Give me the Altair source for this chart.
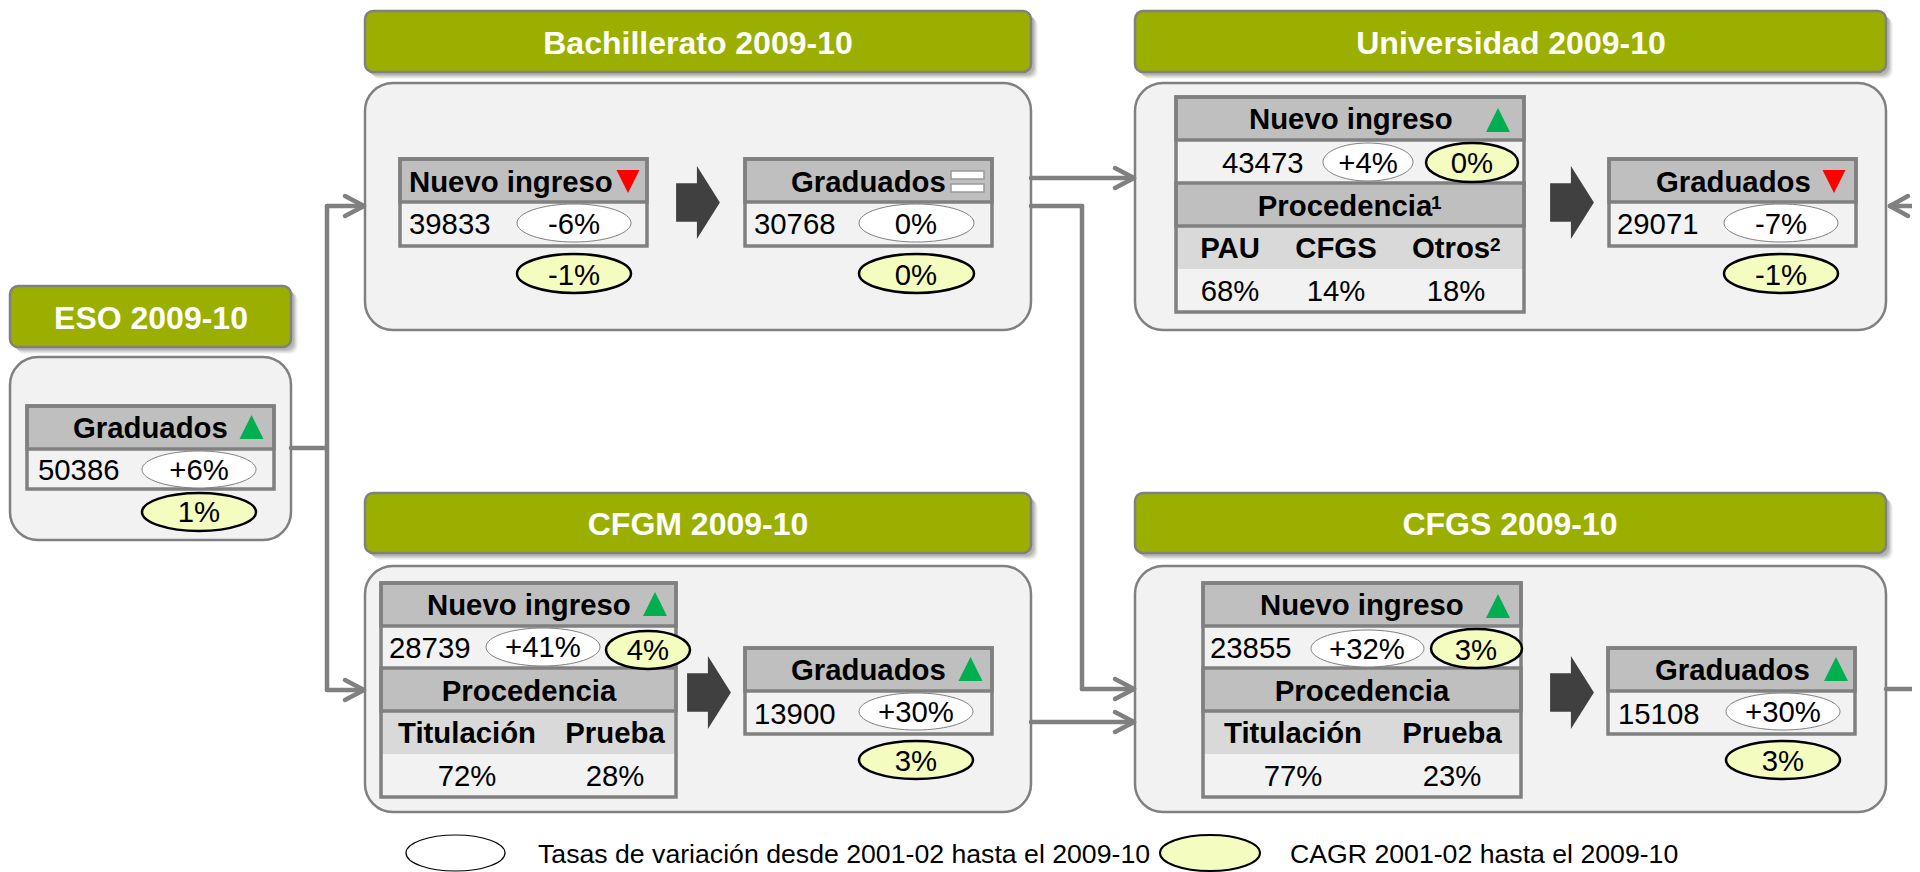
import altair as alt
import pandas as pd

# ---------- values ----------
stage_titles = ["ESO 2009-10", "Bachillerato 2009-10", "Universidad 2009-10", "CFGM 2009-10", "CFGS 2009-10"]
entry_counts = ["39833", "43473", "28739", "23855"]
entry_rates = ["-6%", "+4%", "+41%", "+32%"]
entry_cagr = ["-1%", "0%", "4%", "3%"]
grad_counts = ["50386", "30768", "29071", "13900", "15108"]
grad_rates = ["+6%", "0%", "-7%", "+30%", "+30%"]
grad_cagr = ["1%", "0%", "-1%", "3%", "3%"]
origin_heads = ["Procedencia", "Procedencia", "Procedencia"]
uni_origin = ["PAU", "CFGS", "Otros"]
footnotes = ["1", "2"]
uni_share = ["68%", "14%", "18%"]
fp_origin = ["Titulación", "Prueba"]
cfgm_share = ["72%", "28%"]
cfgs_share = ["77%", "23%"]
legend_texts = ["Tasas de variación desde 2001-02 hasta el 2009-10", "CAGR 2001-02 hasta el 2009-10"]

# ---------- layout of the diagram, in picture pixels ----------
GRAY, GREEN, OLIVE, RED = "#808080", "#00B050", "#9BAF00", "#FF0000"
PALE, HEAD, SUB, PANEL, DARK = "#F5FCC0", "#BFBFBF", "#D9D9D9", "#F2F2F2", "#404040"
FONT = "Liberation Sans"

x_s = alt.Scale(domain=[8, 1912], range=[0, 1904], nice=False, zero=False)
y_s = alt.Scale(domain=[8, 872], range=[0, 864], nice=False, zero=False)


def rects(rows, **mark):
    df = pd.DataFrame(rows, columns=["x", "x2", "y", "y2", "fill"])
    return alt.Chart(df).mark_rect(**mark).encode(
        x=alt.X("x:Q", scale=x_s, axis=None), x2="x2:Q",
        y=alt.Y("y:Q", scale=y_s, axis=None), y2="y2:Q",
        fill=alt.Fill("fill:N", scale=None),
    )


def labels(rows, align="left", bold=False, color="#000000", size=29.33):
    df = pd.DataFrame(rows, columns=["x", "y", "t"])
    return alt.Chart(df).mark_text(
        align=align, baseline="alphabetic", font=FONT, fontSize=size,
        fontWeight="bold" if bold else "normal", color=color,
    ).encode(x=alt.X("x:Q", scale=x_s, axis=None), y=alt.Y("y:Q", scale=y_s, axis=None), text="t:N")


def symbols(rows, **mark):
    df = pd.DataFrame(rows, columns=["x", "y", "shape", "size", "fill", "stroke", "sw"])
    return alt.Chart(df).mark_point(filled=True, opacity=1, **mark).encode(
        x=alt.X("x:Q", scale=x_s, axis=None), y=alt.Y("y:Q", scale=y_s, axis=None),
        shape=alt.Shape("shape:N", scale=None),
        size=alt.Size("size:Q", scale=None),
        fill=alt.Fill("fill:N", scale=None),
        stroke=alt.Stroke("stroke:N", scale=None),
        strokeWidth=alt.StrokeWidth("sw:Q", scale=None),
    )


def ellipse(x0, x1, y0, y1, fill, stroke, sw):
    w, h = x1 - x0, y1 - y0
    r, k = h / w, 0.5523
    p = (f"M-1,0C-1,{-k*r:.4f} {-k:.4f},{-r:.4f} 0,{-r:.4f}C{k:.4f},{-r:.4f} 1,{-k*r:.4f} 1,0"
         f"C1,{k*r:.4f} {k:.4f},{r:.4f} 0,{r:.4f}C{-k:.4f},{r:.4f} -1,{k*r:.4f} -1,0Z")
    return [(x0 + x1) / 2, (y0 + y1) / 2, p, w * w, fill, stroke, sw]


UP = "M0,-1L1,1L-1,1Z"
DOWN = "M-1,-1L1,-1L0,1Z"
BLOCK = "M-.6,-.53L-.03,-.53L-.03,-1L.6,0L-.03,1L-.03,.53L-.6,.53Z"


def tri(x0, x1, y0, y1, up=True):
    return [(x0 + x1) / 2, (y0 + y1) / 2, UP if up else DOWN, (y1 - y0) ** 2, GREEN if up else RED, "transparent", 0]


def block(cx, cy):
    return [cx, cy, BLOCK, 73 ** 2, DARK, "transparent", 0]


# header bars, panels
heads = [(10, 291, 286, 347), (365, 1031, 11, 72), (1135, 1886, 11, 72), (365, 1031, 493, 553), (1135, 1886, 493, 553)]
panels = [(10, 291, 357, 540), (365, 1031, 83, 330), (1135, 1886, 83, 330), (365, 1031, 566, 812), (1135, 1886, 566, 812)]

shadow_layers = [
    rects([(a + d, b + d, c + d, e + d, "#808080") for a, b, c, e in heads],
          cornerRadius=8, opacity=op)
    for d, op in [(7, 0.08), (6, 0.12), (5, 0.16), (4, 0.2), (3, 0.25)]
]
head_layer = rects([(*h, OLIVE) for h in heads], cornerRadius=8, stroke=GRAY, strokeWidth=2.5)
panel_layer = rects([(*p, PANEL) for p in panels], cornerRadius=28, stroke=GRAY, strokeWidth=2.5)

# tables: plain two-row tables (x0, x1, top, divider, bottom)
small = [(27, 274, 406, 449, 489), (400, 647, 159, 202, 246), (745, 992, 159, 202, 246), (1609, 1856, 159, 202, 246),
         (745, 992, 648, 691, 734), (1608, 1855, 648, 691, 734)]
# five-row tables (x0, x1, y0..y5)
large = [(1176, 1524, 97, 140, 183, 226, 269, 312), (381, 676, 583, 626, 668, 711, 754, 797),
         (1203, 1521, 583, 626, 668, 711, 754, 797)]

fills, frames = [], []
for a, b, t, m, e in small:
    fills += [(a, b, t, m, HEAD), (a, b, m, e, PANEL)]
    frames += [(a, b, t, m, "transparent"), (a, b, t, e, "transparent")]
for a, b, y0, y1, y2, y3, y4, y5 in large:
    fills += [(a, b, y0, y1, HEAD), (a, b, y1, y2, PANEL), (a, b, y2, y3, HEAD), (a, b, y3, y4, SUB), (a, b, y4, y5, PANEL)]
    frames += [(a, b, y0, y1, "transparent"), (a, b, y2, y3, "transparent"), (a, b, y0, y5, "transparent")]
fill_layer = rects(fills)
frame_layer = rects(frames, stroke=GRAY, strokeWidth=3.5)

# connectors
segs = [(291, 327, 448, 448), (327, 327, 206, 690), (327, 364, 206, 206), (327, 364, 690, 690),
        (1031, 1134, 178, 178), (1031, 1082, 206, 206), (1082, 1082, 206, 689), (1082, 1134, 689, 689),
        (1031, 1134, 722, 722), (1890, 1920, 206, 206), (1886, 1920, 689, 689)]
for tip_x, tip_y in [(364, 206), (364, 690), (1134, 178), (1134, 689), (1134, 722)]:
    segs += [(tip_x - 19, tip_x, tip_y - 10, tip_y), (tip_x - 19, tip_x, tip_y + 10, tip_y)]
segs += [(1908, 1890, 196, 206), (1908, 1890, 216, 206)]
seg_df = pd.DataFrame(segs, columns=["x", "x2", "y", "y2"])
seg_layer = alt.Chart(seg_df).mark_rule(color=GRAY, strokeWidth=4.5, strokeCap="round").encode(
    x=alt.X("x:Q", scale=x_s, axis=None), x2="x2:Q",
    y=alt.Y("y:Q", scale=y_s, axis=None), y2="y2:Q",
)

# markers
marks = [
    tri(240, 263, 415, 439), tri(643, 667, 592, 616), tri(959, 982, 657, 681),
    tri(1486, 1510, 108, 132), tri(1486, 1510, 594, 618), tri(1824, 1848, 657, 681),
    tri(616, 640, 170, 193, up=False), tri(1822, 1846, 170, 193, up=False),
    block(698, 202.5), block(1572, 202.5), block(709, 692.5), block(1572, 692.5),
]
equal_layer = rects([(951, 984, 171, 179, "#FFFFFF"), (951, 984, 184, 192, "#FFFFFF")], stroke="#999999", strokeWidth=1.5)

white_ell = [
    (142, 256, 451, 488), (517, 631, 204, 242), (859, 974, 204, 242), (1323, 1413, 143, 181), (1724, 1838, 204, 242),
    (486, 600, 628, 666), (859, 973, 693, 730), (1311, 1424, 630, 667), (1726, 1840, 693, 730),
]
pale_ell = [
    (142, 256, 493, 531), (517, 631, 254, 293), (859, 974, 254, 293), (1426, 1518, 143, 182), (1724, 1838, 254, 293),
    (606, 690, 631, 669), (859, 973, 741, 779), (1431, 1522, 629, 668), (1726, 1840, 741, 779),
]
ell_rows = [ellipse(*e, "#FFFFFF", GRAY, 1) for e in white_ell] + [ellipse(*e, PALE, "#000000", 2.5) for e in pale_ell]
ell_rows += [ellipse(406, 505, 835, 871, "#FFFFFF", "#000000", 1.2), ellipse(1160, 1260, 835, 871, PALE, "#000000", 2)]

# text
title_pos = [(151, 329), (698, 54), (1511, 54), (698, 535), (1510, 535)]
title_layer = labels([(x, y, t) for (x, y), t in zip(title_pos, stage_titles)], "center", True, "#FFFFFF", 32)

entry_label = [(409, 192), (1249, 129), (427, 615), (1260, 615)]
grad_label = [(73, 438), (791, 192), (1656, 192), (791, 680), (1655, 680)]
bold_left = labels(
    [(x, y, "Nuevo ingreso") for x, y in entry_label] + [(x, y, "Graduados") for x, y in grad_label], "left", True)

count_pos = [(409, 234), (1222, 173), (389, 658), (1210, 658)]
gcount_pos = [(38, 480), (754, 234), (1617, 234), (754, 724), (1618, 724)]
num_left = labels([(x, y, t) for (x, y), t in zip(count_pos + gcount_pos, entry_counts + grad_counts)], "left")

rate_pos = [(574, 234), (1368, 173), (543, 657), (1367, 659)]
ecagr_pos = [(574, 285), (1472, 173), (648, 660), (1476, 660)]
grate_pos = [(199, 480), (916, 234), (1781, 234), (916, 722), (1783, 722)]
gcagr_pos = [(199, 522), (916, 285), (1781, 285), (916, 771), (1783, 771)]
pct_center = labels(
    [(x, y, t) for (x, y), t in zip(rate_pos + ecagr_pos + grate_pos + gcagr_pos,
                                    entry_rates + entry_cagr + grad_rates + grad_cagr)], "center")

head_pos = [(1345, 216), (529, 701), (1362, 701)]
sub_pos = [(1230, 258), (1336, 258), (1451, 258), (467, 743), (615, 743), (1293, 743), (1452, 743)]
bold_center = labels(
    [(x, y, t) for (x, y), t in zip(head_pos + sub_pos, origin_heads + uni_origin + fp_origin + fp_origin)], "center", True)
foot_layer = labels([(1431, 209, footnotes[0]), (1490, 251, footnotes[1])], "left", True, size=19)

share_pos = [(1230, 301), (1336, 301), (1456, 301), (467, 786), (615, 786), (1293, 786), (1452, 786)]
share_layer = labels(
    [(x, y, t) for (x, y), t in zip(share_pos, uni_share + cfgm_share + cfgs_share)], "center")

legend_layer = labels([(538, 863, legend_texts[0]), (1290, 863, legend_texts[1])], "left", size=26.67)

chart = alt.layer(
    *shadow_layers, panel_layer, head_layer, seg_layer, fill_layer, frame_layer, equal_layer,
    symbols(marks), symbols(ell_rows),
    title_layer, bold_left, bold_center, foot_layer, num_left, pct_center, share_layer, legend_layer,
).properties(
    width=1904, height=864, padding=0, background="#FFFFFF",
    autosize=alt.AutoSizeParams(type="none"),
).configure_view(stroke=None)

chart.save("out.html", embed_options={"renderer": "svg", "actions": False})
